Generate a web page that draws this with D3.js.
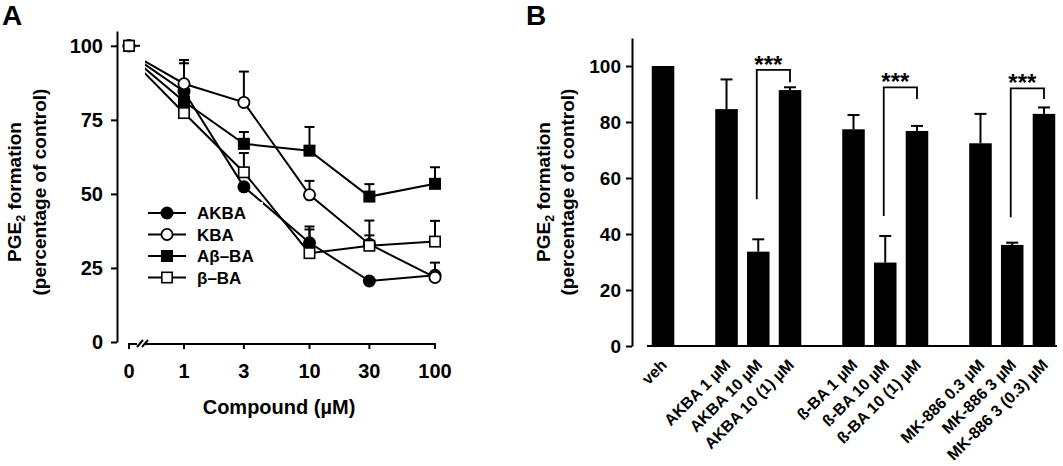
<!DOCTYPE html>
<html><head><meta charset="utf-8">
<script src="https://cdn.jsdelivr.net/npm/d3@7"></script>
<style>
body{margin:0;background:#fff;}
svg{display:block;}
text{font-family:"Liberation Sans",Arial,sans-serif;font-weight:bold;fill:#000;}
</style></head><body>
<svg id="c" width="1063" height="466"></svg>
<script>
// ---------- Panel A data ----------
const concentrations = [0, 1, 3, 10, 30, 100];
const concLabels = ["0", "1", "3", "10", "30", "100"];
const yTicksA = [0, 25, 50, 75, 100];
const seriesNames = ["AKBA", "KBA", "Aβ–BA", "β–BA"];
const akbaMean = [100, 84.6, 52.4, 33.5, 20.6, 22.5];
const akbaSem  = [0, 9.5, 0, 5.5, 0, 0];
const kbaMean  = [100, 87.2, 80.9, 49.7, 33.0, 21.8];
const kbaSem   = [0, 8.0, 10.4, 4.7, 3.0, 5.0];
const abbaMean = [100, 81.2, 66.9, 64.6, 49.1, 53.4];
const abbaSem  = [0, 0, 4.0, 8.0, 4.2, 5.6];
const bbaMean  = [100, 77.3, 57.3, 30.0, 32.5, 33.9];
const bbaSem   = [0, 0, 6.5, 8.0, 8.5, 7.0];

// ---------- Panel B data ----------
const slots = ["veh", "gap1", "AKBA 1 µM", "AKBA 10 µM", "AKBA 10 (1) µM", "gap2",
  "ß-BA 1 µM", "ß-BA 10 µM", "ß-BA 10 (1) µM", "gap3",
  "MK-886 0.3 µM", "MK-886 3 µM", "MK-886 3 (0.3) µM"];
const barCats = ["veh", "AKBA 1 µM", "AKBA 10 µM", "AKBA 10 (1) µM",
  "ß-BA 1 µM", "ß-BA 10 µM", "ß-BA 10 (1) µM",
  "MK-886 0.3 µM", "MK-886 3 µM", "MK-886 3 (0.3) µM"];
const barValues = [100, 84.6, 33.7, 91.4, 77.4, 29.8, 76.8, 72.4, 36.1, 82.9];
const barSem    = [0, 10.6, 4.4, 1.0, 5.1, 9.5, 1.8, 10.5, 0.8, 2.3];
const yTicksB = [0, 20, 40, 60, 80, 100];
const sigLeft  = ["AKBA 10 µM", "ß-BA 10 µM", "MK-886 3 µM"];
const sigRight = ["AKBA 10 (1) µM", "ß-BA 10 (1) µM", "MK-886 3 (0.3) µM"];
const sigLeftLow  = [52.4, 46.4, 46.0];
const sigTop      = [98.6, 92.4, 92.0];
const sigRightLow = [94.2, 88.2, 88.2];
const sigLabels = ["***", "***", "***"];

// ---------- styles ----------
const seriesStyle = [
  {shape: "circle", fill: "#000"},
  {shape: "circle", fill: "#fff"},
  {shape: "square", fill: "#000"},
  {shape: "square", fill: "#fff"}
];
const FONT = "Liberation Sans, Arial, sans-serif";
const svg = d3.select("#c");

// ================= PANEL A =================
const yA = d3.scaleLinear().domain([0, 105]).range([342, 31]);
const xLog = d3.scaleLog().domain([1, 100]).range([184, 435]);
const zeroGap = 55;
const xA = v => v === 0 ? xLog(1) - zeroGap : xLog(v);
const axisXA = 117, axisYA = 344;
const gA = svg.append("g");

svg.append("text").attr("x", 2).attr("y", 25).attr("font-size", 28).text("A");

// y axis
gA.append("g").attr("transform", `translate(${axisXA},0)`)
  .call(d3.axisLeft(yA).tickValues(yTicksA).tickSize(6).tickSizeOuter(0).tickPadding(8))
  .call(g => {
    g.attr("font-family", FONT).attr("font-size", 20).attr("font-weight", "bold");
    g.selectAll("path,line").attr("stroke", "#000").attr("stroke-width", 2);
    g.selectAll("text").attr("fill", "#000");
  });

// y title
function yTitle(x1, x2, cy, fs) {
  const t1 = svg.append("text").attr("transform", `translate(${x1},${cy}) rotate(-90)`)
    .attr("text-anchor", "middle").attr("font-size", fs);
  t1.append("tspan").text("PGE");
  t1.append("tspan").attr("font-size", fs * 0.65).attr("dy", 4).text("2");
  t1.append("tspan").attr("dy", -4).text(" formation");
  svg.append("text").attr("transform", `translate(${x2},${cy}) rotate(-90)`)
    .attr("text-anchor", "middle").attr("font-size", fs).text("(percentage of control)");
}
yTitle(20.5, 45.5, 192, 19);

// x axis with break
const xg = gA.append("g").attr("stroke", "#000").attr("stroke-width", 2).attr("fill", "none");
xg.append("line").attr("x1", xA(0) - 1).attr("x2", xA(0) + 8).attr("y1", axisYA).attr("y2", axisYA);
xg.append("line").attr("x1", xA(0) + 8).attr("x2", xA(0) + 14).attr("y1", axisYA + 3).attr("y2", axisYA - 4);
xg.append("line").attr("x1", xA(0) + 13).attr("x2", xA(0) + 19).attr("y1", axisYA + 3).attr("y2", axisYA - 4);
xg.append("line").attr("x1", xA(0) + 16).attr("x2", xLog(100) + 1).attr("y1", axisYA).attr("y2", axisYA);
concentrations.forEach((c, i) => {
  xg.append("line").attr("x1", xA(c)).attr("x2", xA(c)).attr("y1", axisYA).attr("y2", axisYA + 5);
  gA.append("text").attr("x", xA(c)).attr("y", 378).attr("text-anchor", "middle")
    .attr("font-size", 20).text(concLabels[i]);
});
gA.append("text").attr("x", 279).attr("y", 414).attr("text-anchor", "middle")
  .attr("font-size", 20).text("Compound (µM)");

// series
const means = [akbaMean, kbaMean, abbaMean, bbaMean];
const sems = [akbaSem, kbaSem, abbaSem, bbaSem];
svg.append("clipPath").attr("id", "clipA").append("rect")
  .attr("x", xA(0) + 16).attr("y", 0).attr("width", 600).attr("height", 466);

const lineZeroX = axisXA + 1;
const lineGen = d3.line().x(d => d.c === 0 ? lineZeroX : xA(d.c)).y(d => yA(d.v));

function drawMarker(g, style, cx, cy) {
  if (style.shape === "circle") {
    g.append("circle").attr("cx", cx).attr("cy", cy).attr("r", 5.6)
      .attr("fill", style.fill).attr("stroke", "#000").attr("stroke-width", 1.8);
  } else {
    g.append("rect").attr("x", cx - 5.2).attr("y", cy - 5.2).attr("width", 10.4).attr("height", 10.4)
      .attr("fill", style.fill).attr("stroke", "#000").attr("stroke-width", 1.6);
  }
}

const seriesG = gA.append("g");
means.forEach((m, si) => {
  const pts = concentrations.map((c, i) => ({c, v: m[i], e: sems[si][i]}));
  const g = seriesG.append("g");
  g.append("path").attr("d", lineGen(pts)).attr("fill", "none").attr("stroke", "#000")
    .attr("stroke-width", 2).attr("clip-path", "url(#clipA)");
  pts.forEach(p => {
    if (p.e > 0) {
      g.append("line").attr("x1", xA(p.c)).attr("x2", xA(p.c)).attr("y1", yA(p.v)).attr("y2", yA(p.v + p.e))
        .attr("stroke", "#000").attr("stroke-width", 2);
      g.append("line").attr("x1", xA(p.c) - 5).attr("x2", xA(p.c) + 5).attr("y1", yA(p.v + p.e)).attr("y2", yA(p.v + p.e))
        .attr("stroke", "#000").attr("stroke-width", 2);
    }
  });
  pts.forEach(p => drawMarker(g, seriesStyle[si], xA(p.c), yA(p.v)));
});
// small stub at control point
gA.append("line").attr("x1", xA(0) + 5).attr("x2", xA(0) + 11).attr("y1", yA(100)).attr("y2", yA(100))
  .attr("stroke", "#000").attr("stroke-width", 2);

// legend
const lg = gA.append("g");
lg.append("rect").attr("x", 143).attr("y", 202).attr("width", 120).attr("height", 86).attr("fill", "#fff");
seriesNames.forEach((n, i) => {
  const yy = 213 + i * 21.5;
  lg.append("line").attr("x1", 148).attr("x2", 186).attr("y1", yy).attr("y2", yy)
    .attr("stroke", "#000").attr("stroke-width", 2);
  drawMarker(lg, seriesStyle[i], 167, yy);
  lg.append("text").attr("x", 197).attr("y", yy + 6).attr("font-size", 17).text(n);
});

// ================= PANEL B =================
const yB = d3.scaleLinear().domain([0, 110]).range([346, 38]);
const xB = d3.scaleBand().domain(slots).range([647, 1060]).paddingInner(0.29).paddingOuter(0.15);
const axisXB = 632;
const gB = svg.append("g");
svg.append("text").attr("x", 526).attr("y", 25).attr("font-size", 28).text("B");

gB.append("g").attr("transform", `translate(${axisXB},0)`)
  .call(d3.axisLeft(yB).tickValues(yTicksB).tickSize(6).tickSizeOuter(0).tickPadding(5))
  .call(g => {
    g.attr("font-family", FONT).attr("font-size", 19).attr("font-weight", "bold");
    g.selectAll("path,line").attr("stroke", "#000").attr("stroke-width", 2);
    g.selectAll("text").attr("fill", "#000");
  });
yTitle(550, 574, 192, 19);

// bars
barCats.forEach((c, i) => {
  const x = xB(c), w = xB.bandwidth(), cx = x + w / 2;
  gB.append("rect").attr("x", x).attr("y", yB(barValues[i])).attr("width", w)
    .attr("height", yB(0) - yB(barValues[i])).attr("fill", "#000");
  if (barSem[i] > 0) {
    const ye = yB(barValues[i] + barSem[i]);
    gB.append("line").attr("x1", cx).attr("x2", cx).attr("y1", yB(barValues[i])).attr("y2", ye)
      .attr("stroke", "#000").attr("stroke-width", 2);
    gB.append("line").attr("x1", cx - 6).attr("x2", cx + 6).attr("y1", ye).attr("y2", ye)
      .attr("stroke", "#000").attr("stroke-width", 2);
  }
  gB.append("text").attr("transform", `translate(${cx + 5},366) rotate(-45)`)
    .attr("text-anchor", "end").attr("font-size", 16).text(c);
});
// x axis line
gB.append("line").attr("x1", 647).attr("x2", 1057).attr("y1", yB(0)).attr("y2", yB(0))
  .attr("stroke", "#000").attr("stroke-width", 2);

// significance brackets
sigLeft.forEach((l, i) => {
  const xl = xB(l) + xB.bandwidth() / 2 - 1.5;
  const xr = xB(sigRight[i]) + xB.bandwidth() / 2;
  gB.append("path")
    .attr("d", `M${xl},${yB(sigLeftLow[i])}V${yB(sigTop[i])}H${xr}V${yB(sigRightLow[i])}`)
    .attr("fill", "none").attr("stroke", "#000").attr("stroke-width", 1.8);
  gB.append("text").attr("x", (xl + xr) / 2 - 5).attr("y", yB(sigTop[i]) + 3)
    .attr("text-anchor", "middle").attr("font-size", 24).text(sigLabels[i]);
});
</script>
</body></html>
